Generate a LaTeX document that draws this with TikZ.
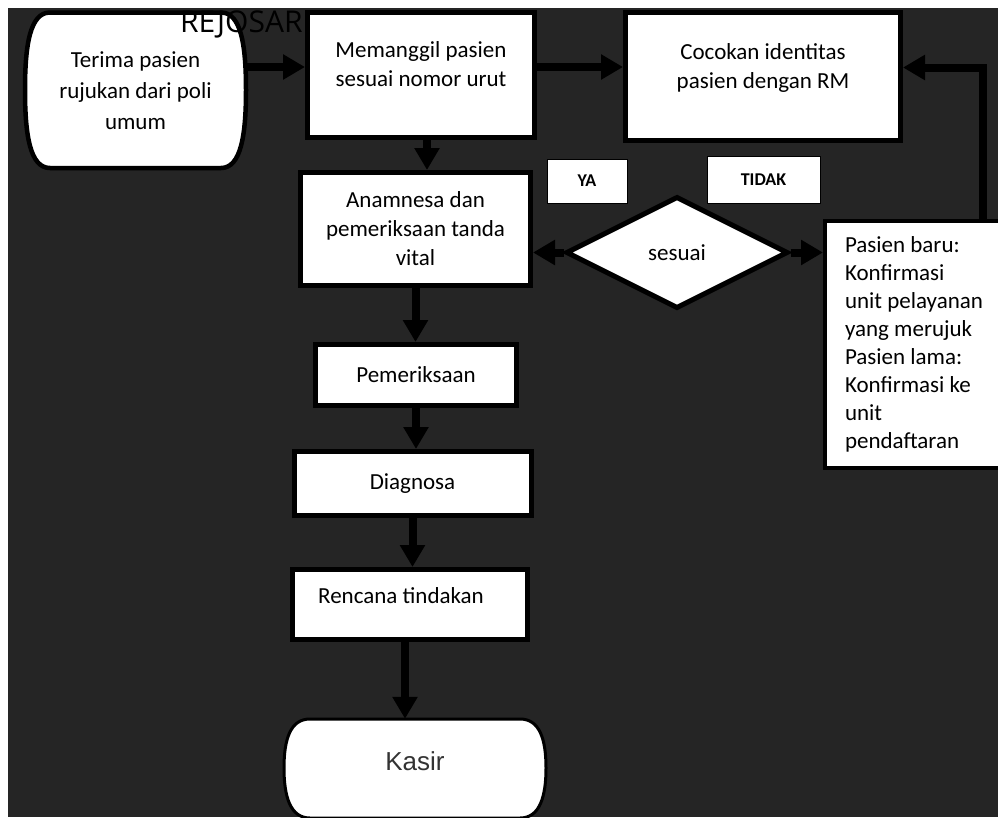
\documentclass[tikz,border=0pt]{standalone}
\usepackage{fontspec}
\setmainfont{Carlito}
\newfontfamily\kasirfont{Liberation Sans}
\newfontfamily\headfont{Open Sans}
\usetikzlibrary{shapes.geometric, arrows.meta}
\definecolor{bgdark}{RGB}{37, 37, 37}
\newcommand{\isi}{\fontsize{23}{29}\selectfont}

\begin{document}
\begin{tikzpicture}[x=1pt, y=-1pt,
  box/.style={draw=black, line width=5pt, fill=white, align=center, font=\isi, inner sep=2pt},
  termline/.style={draw=black, line width=4.5pt, fill=white},
  tag/.style={draw=black, line width=1pt, fill=white, font=\bfseries\fontsize{18}{20}\selectfont},
  flow/.style={line width=8pt, -{Triangle[length=22pt, width=24pt]}}]

  \useasboundingbox (0,0) rectangle (998,817);
  \fill[white] (0,0) rectangle (998,817);
  \fill[bgdark] (8,8) rectangle (998,817);

  % terminal outlines
  \draw[termline] (50,12.5) -- (221,12.5)
    .. controls (241,12.5) and (246,45) .. (246,90)
    .. controls (246,135) and (241,168) .. (221,168) -- (50,168)
    .. controls (30,168) and (25,135) .. (25,90)
    .. controls (25,45) and (30,12.5) .. cycle;
  \draw[termline, line width=3pt] (310,719) -- (520,719)
    .. controls (540,719) and (546,740) .. (546,768)
    .. controls (546,796) and (540,818) .. (520,818) -- (310,818)
    .. controls (290,818) and (284,796) .. (284,768)
    .. controls (284,740) and (290,719) .. cycle;

  \node[align=center, minimum width=221pt, minimum height=155.5pt,
    font=\fontsize{23}{31}\selectfont] (start) at (135.5,90.25) {Terima pasien\\rujukan dari poli\\umum};
  \node[box, minimum width=227pt, minimum height=125pt] (memanggil) at (421,75)
    {Memanggil pasien\\sesuai nomor urut\\[-7pt]};
  \node[box, minimum width=275pt, minimum height=128pt] (cocokan) at (763,76.5)
    {Cocokan identitas\\pasien dengan RM\\[-9pt]};
  \node[box, minimum width=230pt, minimum height=113pt] (anamnesa) at (415.5,229)
    {Anamnesa dan\\pemeriksaan tanda\\vital};

  \node[tag, minimum width=80pt, minimum height=44pt] (ya) at (587,181) {YA};
  \node[tag, minimum width=113pt, minimum height=47pt] (tidak) at (763.5,179.5) {TIDAK};
  \node[box, diamond, aspect=2, minimum width=222pt, minimum height=112pt, inner sep=0pt]
    (sesuai) at (677,252.5) {sesuai};

  \node[box, anchor=north west, align=flush left, text width=160pt, inner xsep=20pt,
    minimum height=247pt, line width=4pt, font=\fontsize{23}{28}\selectfont] (pasien) at (823,218.5)
    {Pasien baru:\\Konfirmasi\\unit pelayanan\\yang merujuk\\Pasien lama:\\Konfirmasi ke\\unit\\pendaftaran};

  \node[box, minimum width=201pt, minimum height=61pt] (pemeriksaan) at (416,375) {Pemeriksaan};
  \node[box, minimum width=237pt, minimum height=64pt] (diagnosa) at (412.5,483.5) {Diagnosa};
  \node[box, minimum width=235pt, minimum height=70pt] (rencana) at (410,604.5)
    {Rencana tindakan\kern18pt\\[-12pt]};
  \node[align=center, minimum width=262pt, minimum height=99pt,
    font=\kasirfont\fontsize{26}{30}\selectfont, text=black!80] (kasir) at (415,768.5)
    {Kasir\\[-16pt]};

  \draw[flow] ([yshift=8pt]memanggil.west -| start.east) -- ([yshift=8pt]memanggil.west);
  \draw[flow] ([yshift=8pt]memanggil.east) -- ([yshift=8pt]memanggil.east -| cocokan.west);
  \draw[flow] ([xshift=6pt]memanggil.south) -- ([xshift=6pt]memanggil.south |- anamnesa.north);
  \draw[flow] (sesuai.west) -- (sesuai.west -| anamnesa.east);
  \draw[flow] (sesuai.east) -- (sesuai.east -| pasien.west);
  \draw[flow] ([xshift=160pt]pasien.north west) |- ([yshift=9pt]cocokan.east);
  \draw[flow] (anamnesa.south) -- (anamnesa.south |- pemeriksaan.north);
  \draw[flow] (pemeriksaan.south) -- (pemeriksaan.south |- diagnosa.north);
  \draw[flow] (diagnosa.south) -- (diagnosa.south |- rencana.north);
  \draw[flow] ([xshift=-5pt]rencana.south) -- ([xshift=-5pt]rencana.south |- kasir.north);

  \node[font=\headfont\fontsize{30}{32}\selectfont, anchor=base west, inner sep=0pt] (judul) at (180,32) {REJOSARI};
\end{tikzpicture}
\end{document}
